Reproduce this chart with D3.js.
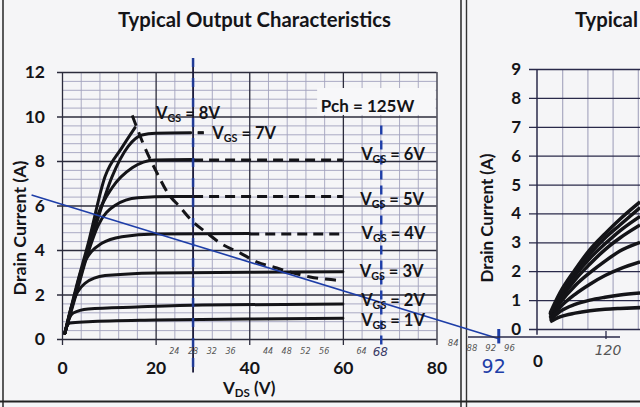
<!DOCTYPE html>
<html><head><meta charset="utf-8">
<script src="https://cdn.jsdelivr.net/npm/d3@7"></script>
<style>
body{margin:0;background:#f5f5f7;}
svg{display:block;font-family:Lato,"Open Sans",sans-serif;}
</style></head><body>
<svg id="c" width="640" height="407"></svg>
<script>
// ---------- data (left chart: Typical Output Characteristics) ----------
const xTicks = [0, 20, 40, 60, 80];
const yTicks = [0, 2, 4, 6, 8, 10, 12];
const xMinorTicks = [4, 8, 12, 16, 24, 28, 32, 36, 44, 48, 52, 56, 64, 68, 72, 76];
const yMinorTicks = [0.4, 0.8, 1.2, 1.6, 2.4, 2.8, 3.2, 3.6, 4.4, 4.8, 5.2, 5.6, 6.4, 6.8, 7.2, 7.6, 8.4, 8.8, 9.2, 9.6, 10.4, 10.8, 11.2, 11.6];
const vgsNames = ["1V", "2V", "3V", "4V", "5V", "6V", "7V", "8V"];
const vgs1V = [[0.6,0.25],[1,0.55],[1.7,0.72],[5.6,0.77],[20,0.85],[40,0.9],[60,0.93]];
const vgs2V = [[0.6,0.25],[1.5,0.9],[2.4,1.17],[5.6,1.35],[16,1.44],[30,1.53],[60,1.57]];
const vgs3V = [[0.6,0.25],[2,1.45],[4.9,2.5],[9.2,2.85],[20,2.97],[40,3.0],[60,3.02]];
const vgs4V = [[0.6,0.25],[2.5,1.8],[4.3,3.2],[8.5,4.3],[12.8,4.6],[20,4.72],[40,4.74]];
const vgs5V = [[0.6,0.25],[3,2.0],[5.6,3.9],[7.7,5.1],[11.3,6.0],[16.2,6.35],[23.5,6.4],[28,6.4]];
const vgs6V = [[0.6,0.25],[3,2.1],[5.8,4.2],[7.7,5.6],[10.7,6.8],[15,7.7],[19.9,8.05],[28,8.07]];
const vgs7V = [[0.6,0.25],[3,2.2],[6.2,4.4],[10.7,7.3],[14.1,8.65],[17.1,9.17],[20,9.25],[27.5,9.27]];
const vgs8V = [[0.6,0.25],[3,2.3],[5.6,4.3],[9.2,7.3],[12.8,8.6],[15.6,9.5]];
const vgsDashed = {
  "4V": [[40,4.72],[60,4.72]],
  "5V": [[28,6.4],[60,6.4]],
  "6V": [[28,8.05],[60,8.05]],
  "7V": [[29,9.27],[30.3,9.27]]
};
const pchV = [15, 16, 17.3, 20.3, 22.6, 25.2, 28, 31, 33.8, 38, 41.7, 45.9, 48.7, 53, 58.3, 60];
const pchI = [10.05, 9.5, 8.8, 7.46, 6.56, 5.93, 5.26, 4.76, 4.31, 3.87, 3.46, 3.19, 3.01, 2.79, 2.65, 2.6];
const loadLineV = [-6.5, 93.5];
const loadLineI = [6.47, 0];
const handNotesA = ["24", "28", "32", "36", "44", "48", "52", "56", "64"];
const handNotesB = ["84", "88", "92", "96"];

// ---------- data (right chart, partly visible) ----------
const rYTicks = [0,1,2,3,4,5,6,7,8,9];
const rXGrid = [1,2,3,4];
const rX = [0.52, 0.91, 1.51, 2.10, 2.70, 3.29, 4.09];
const rCurves = [
  [0.25,0.42,0.55,0.63,0.68,0.71,0.74],
  [0.30,0.60,0.85,1.00,1.10,1.18,1.25],
  [0.35,0.75,1.20,1.55,1.85,2.08,2.32],
  [0.40,0.90,1.50,1.95,2.35,2.70,3.00],
  [0.45,1.00,1.70,2.25,2.75,3.15,3.60],
  [0.50,1.10,1.85,2.45,2.95,3.40,3.90],
  [0.50,1.15,1.95,2.60,3.15,3.60,4.20],
  [0.55,1.25,2.05,2.75,3.30,3.80,4.40]
];

// ---------- drawing ----------
const svg = d3.select("#c");
const x = d3.scaleLinear([0, 80], [62, 436.5]);
const y = d3.scaleLinear([0, 12], [339, 72]);
const ink = "#141418", minorC = "#a3a3bd", majorC = "#2c2c3c", blue = "#1e3ea8";

// page frame
svg.append("line").attr("x1",3).attr("x2",3).attr("y1",0).attr("y2",407).attr("stroke","#333").attr("stroke-width",1.6);
svg.append("line").attr("x1",461).attr("x2",461).attr("y1",0).attr("y2",407).attr("stroke","#333").attr("stroke-width",1.6);
svg.append("line").attr("x1",466.5).attr("x2",466.5).attr("y1",0).attr("y2",407).attr("stroke","#333").attr("stroke-width",1.4);
svg.append("line").attr("x1",0).attr("x2",640).attr("y1",401.5).attr("y2",401.5).attr("stroke","#222").attr("stroke-width",2.2);

const g = svg.append("g");
// minor grid
g.append("g").attr("transform",`translate(0,${y(0)})`)
  .call(d3.axisBottom(x).tickValues(xMinorTicks).tickSize(-(y(0)-y(12))).tickFormat(""))
  .call(s=>{s.select(".domain").remove(); s.selectAll("line").attr("stroke",minorC).attr("stroke-width",0.9);});
g.append("g").attr("transform",`translate(${x(0)},0)`)
  .call(d3.axisLeft(y).tickValues(yMinorTicks).tickSize(-(x(80)-x(0))).tickFormat(""))
  .call(s=>{s.select(".domain").remove(); s.selectAll("line").attr("stroke",minorC).attr("stroke-width",0.9);});
// major grid
g.append("g").attr("transform",`translate(0,${y(12)})`)
  .call(d3.axisBottom(x).tickValues(xTicks).tickSize(y(0)-y(12)+6).tickFormat(""))
  .call(s=>{s.select(".domain").remove(); s.selectAll("line").attr("stroke",majorC).attr("stroke-width",1.3);});
g.append("g").attr("transform",`translate(${x(80)},0)`)
  .call(d3.axisLeft(y).tickValues(yTicks).tickSize(x(80)-x(0)+5).tickFormat(""))
  .call(s=>{s.select(".domain").remove(); s.selectAll("line").attr("stroke",majorC).attr("stroke-width",1.3);});
// tick labels
g.append("g").attr("transform",`translate(0,${y(0)})`)
  .call(d3.axisBottom(x).tickValues(xTicks).tickSize(0).tickPadding(23))
  .call(s=>{s.select(".domain").remove(); s.selectAll("text").attr("font-size",17.5).attr("font-weight",700).attr("fill",ink).attr("font-family","Lato");});
g.append("g").attr("transform",`translate(${x(0)},0)`)
  .call(d3.axisLeft(y).tickValues(yTicks).tickSize(0).tickPadding(17))
  .call(s=>{s.select(".domain").remove(); s.selectAll("text").attr("font-size",17.5).attr("font-weight",700).attr("fill",ink).attr("font-family","Lato");});

// Pch box
svg.append("rect").attr("x",x(54.5)).attr("y",y(11.28)).attr("width",x(79.8)-x(54.5)).attr("height",y(10.07)-y(11.28)).attr("fill","#f7f7f9");

// curves
const line = d3.line().x(d=>x(d[0])).y(d=>y(d[1])).curve(d3.curveMonotoneX);
const solid = [vgs1V, vgs2V, vgs3V, vgs4V, vgs5V, vgs6V, vgs7V, vgs8V];
solid.forEach(s=>{
  svg.append("path").attr("d",line(s)).attr("fill","none").attr("stroke",ink).attr("stroke-width",3).attr("stroke-linecap","round");
});
Object.values(vgsDashed).forEach(s=>{
  svg.append("path").attr("d",d3.line().x(d=>x(d[0])).y(d=>y(d[1]))(s)).attr("fill","none").attr("stroke",ink).attr("stroke-width",3).attr("stroke-dasharray","10,6");
});
// Pch dashed curve
const pch = pchV.map((v,i)=>[v,pchI[i]]);
svg.append("path").attr("d",d3.line().x(d=>x(d[0])).y(d=>y(d[1])).curve(d3.curveMonotoneX)(pch))
  .attr("fill","none").attr("stroke",ink).attr("stroke-width",3).attr("stroke-dasharray","11,7");

// vertical marker lines
svg.append("line").attr("x1",x(28)).attr("x2",x(28)).attr("y1",y(12.63)).attr("y2",y(-1.5)).attr("stroke","#1a1a3a").attr("stroke-width",1.8);
svg.append("line").attr("x1",x(28)).attr("x2",x(28)).attr("y1",y(12.63)).attr("y2",y(-1.5)).attr("stroke",blue).attr("stroke-width",2.6).attr("stroke-dasharray","9,11").attr("opacity",0.8);
svg.append("line").attr("x1",x(68.2)).attr("x2",x(68.2)).attr("y1",y(9.6)).attr("y2",y(-0.25)).attr("stroke",blue).attr("stroke-width",2.4).attr("stroke-dasharray","9,6");
svg.append("line").attr("x1",x(93.3)).attr("x2",x(93.3)).attr("y1",y(0.45)).attr("y2",y(-0.2)).attr("stroke",blue).attr("stroke-width",3);

// load line
svg.append("line").attr("x1",x(loadLineV[0])).attr("y1",y(loadLineI[0])).attr("x2",x(loadLineV[1])).attr("y2",y(loadLineI[1]))
  .attr("stroke",blue).attr("stroke-width",1.6);

// labels
function vgsLabel(px, py, val, fs){
  const t = svg.append("text").attr("x",px).attr("y",py).attr("font-size",fs).attr("font-weight",700).attr("fill",ink).attr("font-family","Lato");
  t.append("tspan").text("V");
  t.append("tspan").attr("font-size",fs*0.65).attr("dy",3).text("GS");
  t.append("tspan").attr("dy",-3).text(" = " + val);
}
const labelPos = {"1V":[63.9,0.6],"2V":[63.9,1.47],"3V":[63.6,2.79],"4V":[64.0,4.49],"5V":[63.7,6.02],"6V":[63.9,8.04],"7V":[32.1,8.98],"8V":[20.1,9.9]};
vgsNames.forEach(n=>vgsLabel(x(labelPos[n][0]), y(labelPos[n][1]), n, 16.5));
svg.append("line").attr("x1",x(29)).attr("x2",x(30.2)).attr("y1",y(9.27)).attr("y2",y(9.27)).attr("stroke",ink).attr("stroke-width",2.5);

svg.append("text").attr("x",x(55.3)).attr("y",y(10.2)).attr("font-size",17).attr("font-weight",700).attr("fill",ink).attr("font-family","Lato").text("Pch = 125W");

// title
const title = svg.append("text").attr("x",254.5).attr("y",27).attr("text-anchor","middle").attr("font-size",18).attr("font-weight",700).attr("fill",ink).attr("font-family","Lato").text("Typical Output Characteristics");
const tw = title.node().getComputedTextLength();
const tfs = 18*273/tw;
title.attr("font-size",tfs);

// axis titles
const xt = svg.append("text").attr("x",223).attr("y",394).attr("font-size",17).attr("font-weight",700).attr("fill",ink).attr("font-family","Lato");
xt.append("tspan").text("V"); xt.append("tspan").attr("font-size",11.5).attr("dy",3).text("DS"); xt.append("tspan").attr("dy",-3).text(" (V)");
const yt = svg.append("text").attr("transform","translate(26,228) rotate(-90)").attr("text-anchor","middle").attr("font-size",16).attr("font-weight",700).attr("fill",ink).attr("font-family","Lato").text("Drain Current (A)");
const yw = yt.node().getComputedTextLength(); yt.attr("font-size",16*135/yw);

// handwritten notes
const hand = svg.append("g").attr("font-family","DejaVu Sans").attr("font-style","italic").attr("fill","#555").attr("font-size",8);
handNotesA.forEach(n=>hand.append("text").attr("x",x(+n)).attr("y",354).attr("text-anchor","middle").text(n));
hand.append("text").attr("x",x(68)).attr("y",356).attr("text-anchor","middle").attr("font-size",12).attr("fill","#3a3a66").text("68");
handNotesB.forEach((n,i)=>hand.append("text").attr("x",x(+n)-2).attr("y",i==0?346:351).attr("text-anchor","middle").attr("font-size",8.5).text(n));
svg.append("text").attr("x",x(92)+1).attr("y",373).attr("text-anchor","middle").attr("font-size",19).attr("font-family","DejaVu Sans").attr("fill",blue).text("92");

// ---------- right chart ----------
const xr = d3.scaleLinear([0,4],[537,637.8]);
const yr = d3.scaleLinear([0,9],[329,69]);
svg.append("g").attr("transform",`translate(0,${yr(0)})`)
  .call(d3.axisBottom(xr).tickValues(rXGrid).tickSize(-(yr(0)-yr(9))).tickFormat(""))
  .call(s=>{s.select(".domain").remove(); s.selectAll("line").attr("stroke",minorC).attr("stroke-width",1.1);});
svg.append("g").attr("transform",`translate(${xr(4.2)},0)`)
  .call(d3.axisLeft(yr).tickValues(rYTicks).tickSize(xr(4.2)-xr(0)+8).tickFormat(""))
  .call(s=>{s.select(".domain").remove(); s.selectAll("line").attr("stroke","#2a2a4a").attr("stroke-width",1.3);});
svg.append("line").attr("x1",xr(0)).attr("x2",xr(0)).attr("y1",yr(9)).attr("y2",yr(-0.2)).attr("stroke","#2a2a4a").attr("stroke-width",1.5);
svg.append("line").attr("x1",468).attr("x2",620).attr("y1",337).attr("y2",337).attr("stroke","#2a2a4a").attr("stroke-width",1.3);
svg.append("line").attr("x1",606).attr("x2",606).attr("y1",331).attr("y2",339).attr("stroke","#2a2a4a").attr("stroke-width",1.3);
svg.append("g").attr("transform",`translate(${xr(0)},0)`)
  .call(d3.axisLeft(yr).tickValues(rYTicks).tickSize(0).tickPadding(16))
  .call(s=>{s.select(".domain").remove(); s.selectAll("text").attr("font-size",17).attr("font-weight",700).attr("fill",ink).attr("font-family","Lato");});
const rline = d3.line().x((d,i)=>xr(rX[i])).y(d=>yr(d)).curve(d3.curveMonotoneX);
rCurves.forEach(c=>svg.append("path").attr("d",rline(c)).attr("fill","none").attr("stroke",ink).attr("stroke-width",3.5));
svg.append("text").attr("x",538).attr("y",367).attr("text-anchor","middle").attr("font-size",17).attr("font-weight",700).attr("fill",ink).attr("font-family","Lato").text("0");
svg.append("text").attr("x",608).attr("y",355).attr("text-anchor","middle").attr("font-size",14).attr("font-style","italic").attr("font-family","DejaVu Sans").attr("fill","#555").text("120");
svg.append("text").attr("x",575).attr("y",27).attr("font-size",tfs).attr("font-weight",700).attr("fill",ink).attr("font-family","Lato").text("Typical");
const yt2 = svg.append("text").attr("transform","translate(493,218) rotate(-90)").attr("text-anchor","middle").attr("font-size",16).attr("font-weight",700).attr("fill",ink).attr("font-family","Lato").text("Drain Current (A)");
const yw2 = yt2.node().getComputedTextLength(); yt2.attr("font-size",16*129/yw2);
</script>
</body></html>
